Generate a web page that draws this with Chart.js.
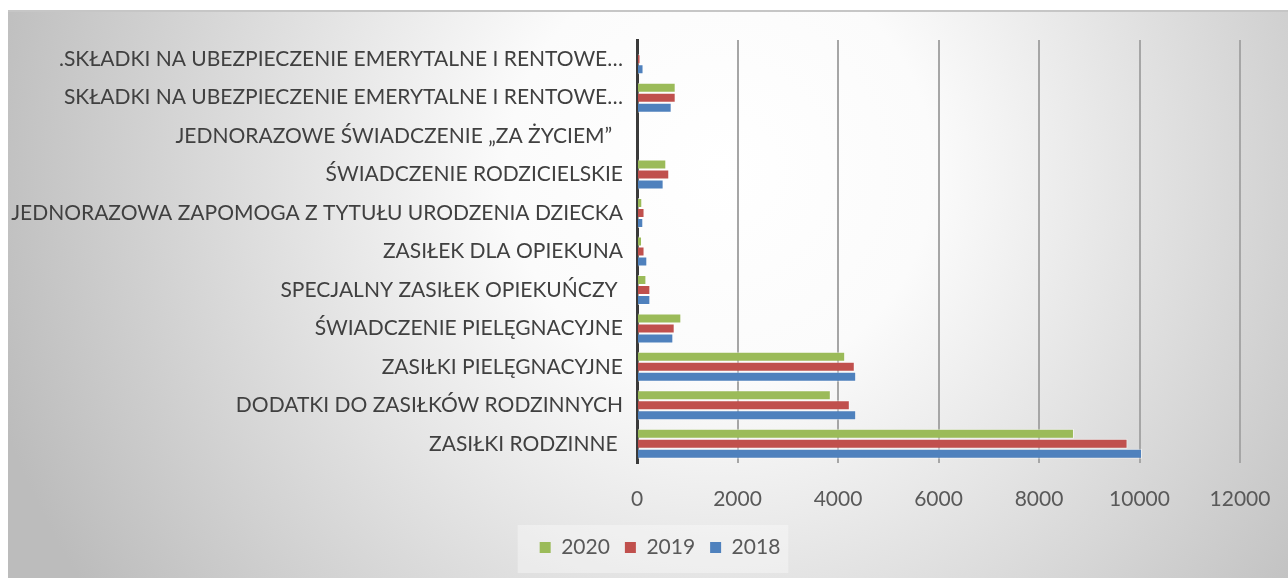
<!DOCTYPE html>
<html>
<head>
<meta charset="utf-8">
<script src="https://cdn.jsdelivr.net/npm/chart.js@4"></script>
<style>
  html, body { margin: 0; padding: 0; background: #ffffff; }
  #wrap { width: 1288px; height: 578px; position: relative; }
</style>
</head>
<body>
<div id="wrap"><canvas id="benefitsChart"></canvas></div>
<script>
// Categories, top to bottom as in the picture
const categories = [
    '.SKŁADKI NA UBEZPIECZENIE EMERYTALNE I RENTOWE…',
    'SKŁADKI NA UBEZPIECZENIE EMERYTALNE I RENTOWE…',
    'JEDNORAZOWE ŚWIADCZENIE „ZA ŻYCIEM”  ',
    'ŚWIADCZENIE RODZICIELSKIE',
    'JEDNORAZOWA ZAPOMOGA Z TYTUŁU URODZENIA DZIECKA',
    'ZASIŁEK DLA OPIEKUNA',
    'SPECJALNY ZASIŁEK OPIEKUŃCZY ',
    'ŚWIADCZENIE PIELĘGNACYJNE',
    'ZASIŁKI PIELĘGNACYJNE',
    'DODATKI DO ZASIŁKÓW RODZINNYCH',
    'ZASIŁKI RODZINNE ',
];

// Values per year
const values2020 = [0, 770, 0, 583, 105, 100, 187, 882, 4143, 3857, 8696];
const values2019 = [70, 770, 0, 642, 150, 150, 266, 750, 4334, 4235, 9762];
const values2018 = [130, 690, 0, 530, 125, 205, 266, 723, 4362, 4362, 10050];

const xTicks = [0, 2000, 4000, 6000, 8000, 10000, 12000];

// Office style background: white page strip on top, radial grey panel below
const backgroundPlugin = {
    id: 'panelBackground',
    afterLayout(chart) {
        // legend sits a bit right of the canvas centre in the original
        const lg = chart.legend;
        lg.left += 40;
        lg.right += 40;
        lg.adjustHitBoxes();
    },
    beforeDraw(chart) {
        const c = chart.ctx;
        c.save();
        c.fillStyle = '#ffffff';
        c.fillRect(0, 0, chart.width, chart.height);
        const g = c.createRadialGradient(720, 170, 0, 720, 170, 760);
        g.addColorStop(0, '#ffffff');
        g.addColorStop(0.28, '#fbfbfb');
        g.addColorStop(1, '#bcbcbc');
        c.fillStyle = g;
        c.fillRect(8, 10, chart.width - 8, chart.height - 10);
        // thin top edge
        c.fillStyle = '#c6c6c6';
        c.fillRect(8, 10, chart.width - 8, 2);
        // lighter box behind the legend
        const lg = chart.legend;
        if (lg && lg.legendHitBoxes.length) {
            const first = lg.legendHitBoxes[0];
            const last = lg.legendHitBoxes[lg.legendHitBoxes.length - 1];
            c.fillStyle = 'rgba(255,255,255,0.35)';
            c.fillRect(first.left - 22, lg.top + 3, last.left + last.width - first.left + 30, 48);
        }
        c.restore();
    }
};

const ctx = document.getElementById('benefitsChart').getContext('2d');

new Chart(ctx, {
    type: 'bar',
    data: {
        labels: categories,
        datasets: [
            {
                label: '2020',
                data: values2020,
                backgroundColor: '#9bbb59',
                borderColor: 'rgba(255,255,255,0.55)',
                borderWidth: 1,
            },
            {
                label: '2019',
                data: values2019,
                backgroundColor: '#c0504d',
                borderColor: 'rgba(255,255,255,0.55)',
                borderWidth: 1,
            },
            {
                label: '2018',
                data: values2018,
                backgroundColor: '#4f81bd',
                borderColor: 'rgba(255,255,255,0.55)',
                borderWidth: 1,
            },
        ]
    },
    options: {
        indexAxis: 'y',
        responsive: true,
        maintainAspectRatio: false,
        animation: false,
        layout: {
            padding: { top: 40, right: 48, bottom: 10, left: 0 }
        },
        datasets: {
            bar: { categoryPercentage: 0.78, barPercentage: 1.0 }
        },
        plugins: {
            legend: {
                position: 'bottom',
                labels: {
                    boxWidth: 11,
                    boxHeight: 11,
                    padding: 15,
                    color: '#595959',
                    font: { family: 'Lato', size: 21 },
                    generateLabels(chart) {
                        return Chart.defaults.plugins.legend.labels.generateLabels(chart)
                            .map(item => Object.assign(item, { lineWidth: 0, strokeStyle: item.fillStyle }));
                    }
                }
            },
            tooltip: { enabled: false }
        },
        scales: {
            x: {
                min: 0,
                max: 12000,
                afterBuildTicks(scale) {
                    scale.ticks = xTicks.map(v => ({ value: v }));
                },
                afterFit(scale) {
                    scale.height = 59;
                    scale.paddingLeft = 0;
                    scale.paddingRight = 0;
                },
                grid: {
                    color: '#a6a6a6',
                    lineWidth: 2,
                    drawTicks: false,
                },
                border: { display: false },
                ticks: {
                    padding: 24,
                    color: '#595959',
                    font: { family: 'Lato', size: 21 },
                    callback: v => String(v)
                }
            },
            y: {
                afterFit(scale) { scale.width = 637; },
                grid: { display: false, drawTicks: false },
                border: { display: true, color: '#3a3a3a', width: 3 },
                ticks: {
                    padding: 14,
                    color: '#404040',
                    font: { family: 'Lato', size: 21 },
                    autoSkip: false
                }
            }
        }
    },
    plugins: [backgroundPlugin]
});
</script>
</body>
</html>
